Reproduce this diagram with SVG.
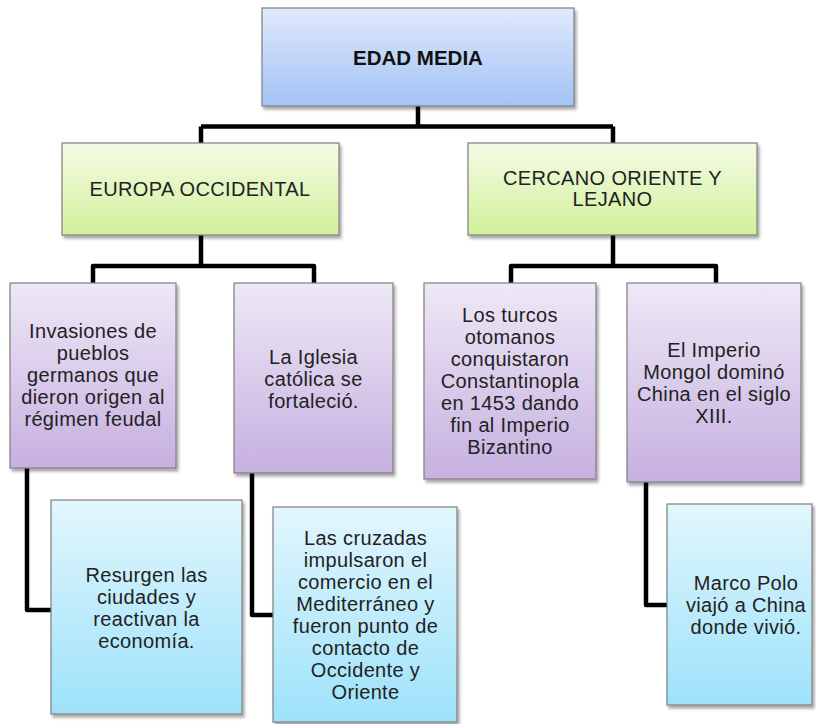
<svg xmlns="http://www.w3.org/2000/svg" width="816" height="724" viewBox="0 0 816 724">
<defs>
<linearGradient id="gBlueTop" x1="0" y1="0" x2="0" y2="1"><stop offset="0" stop-color="#dfe9fb"/><stop offset="1" stop-color="#a3c2f6"/></linearGradient>
<linearGradient id="gGreen" x1="0" y1="0" x2="0" y2="1"><stop offset="0" stop-color="#f4fbe6"/><stop offset="1" stop-color="#d2f19b"/></linearGradient>
<linearGradient id="gPurple" x1="0" y1="0" x2="0" y2="1"><stop offset="0" stop-color="#eee8f6"/><stop offset="1" stop-color="#c6b0e0"/></linearGradient>
<linearGradient id="gCyan" x1="0" y1="0" x2="0" y2="1"><stop offset="0" stop-color="#e2f6fd"/><stop offset="1" stop-color="#9de2fa"/></linearGradient>
<filter id="sh" x="-10%" y="-10%" width="125%" height="125%">
<feGaussianBlur in="SourceAlpha" stdDeviation="1.5"/>
<feOffset dx="2" dy="2.5" result="o"/>
<feComponentTransfer><feFuncA type="linear" slope="0.35"/></feComponentTransfer>
<feMerge><feMergeNode/><feMergeNode in="SourceGraphic"/></feMerge>
</filter>
</defs>
<style>
.box{stroke:#7f7f7f;stroke-width:1.2;filter:url(#sh)}
.t{font-family:"Liberation Sans",Arial,sans-serif;font-size:20px;fill:#222;text-anchor:middle;letter-spacing:0.35px}
.tb{font-family:"Liberation Sans",Arial,sans-serif;font-size:20.5px;font-weight:bold;fill:#111;text-anchor:middle}
.c{fill:none;stroke:#000;stroke-width:4.5;stroke-linejoin:round}
</style>
<g id="connectors">
<path class="c" d="M418 106 V126.5 M201 126.5 H613 M201 126.5 V143 M613 126.5 V143"/>
<path class="c" d="M201 235 V266 M93 283 V266 H314 V283"/>
<path class="c" d="M613 235 V266 M511 283 V266 H716 V283"/>
<path class="c" d="M27 468 V610 H51"/>
<path class="c" d="M252 473 V615 H273"/>
<path class="c" d="M646 482 V605 H667"/>
</g>
<g id="edad-media">
<rect class="box" x="262" y="8" width="312" height="98" fill="url(#gBlueTop)"/>
<text class="tb" x="418" y="65">EDAD MEDIA</text>
</g>
<g id="europa">
<rect class="box" x="62" y="143" width="277" height="92" fill="url(#gGreen)"/>
<text class="t" x="200" y="196">EUROPA OCCIDENTAL</text>
</g>
<g id="cercano">
<rect class="box" x="468" y="143" width="289" height="92" fill="url(#gGreen)"/>
<text class="t" x="612.5" y="185">CERCANO ORIENTE Y</text>
<text class="t" x="612.5" y="206">LEJANO</text>
</g>
<g id="invasiones">
<rect class="box" x="10" y="283" width="166" height="185" fill="url(#gPurple)"/>
<text class="t" x="93" y="338">Invasiones de</text>
<text class="t" x="93" y="360">pueblos</text>
<text class="t" x="93" y="382">germanos que</text>
<text class="t" x="93" y="404">dieron origen al</text>
<text class="t" x="93" y="426">régimen feudal</text>
</g>
<g id="iglesia">
<rect class="box" x="234" y="283" width="159" height="190" fill="url(#gPurple)"/>
<text class="t" x="313.5" y="364">La Iglesia</text>
<text class="t" x="313.5" y="386">católica se</text>
<text class="t" x="313.5" y="408">fortaleció.</text>
</g>
<g id="turcos">
<rect class="box" x="424" y="283" width="172" height="196" fill="url(#gPurple)"/>
<text class="t" x="510" y="322">Los turcos</text>
<text class="t" x="510" y="344">otomanos</text>
<text class="t" x="510" y="366">conquistaron</text>
<text class="t" x="510" y="388">Constantinopla</text>
<text class="t" x="510" y="410">en 1453 dando</text>
<text class="t" x="510" y="432">fin al Imperio</text>
<text class="t" x="510" y="454">Bizantino</text>
</g>
<g id="mongol">
<rect class="box" x="627" y="283" width="174" height="199" fill="url(#gPurple)"/>
<text class="t" x="714" y="357">El Imperio</text>
<text class="t" x="714" y="379">Mongol dominó</text>
<text class="t" x="714" y="401">China en el siglo</text>
<text class="t" x="714" y="423">XIII.</text>
</g>
<g id="resurgen">
<rect class="box" x="51" y="500" width="191" height="214" fill="url(#gCyan)"/>
<text class="t" x="146.5" y="582">Resurgen las</text>
<text class="t" x="146.5" y="604">ciudades y</text>
<text class="t" x="146.5" y="626">reactivan la</text>
<text class="t" x="146.5" y="648">economía.</text>
</g>
<g id="cruzadas">
<rect class="box" x="273" y="507" width="184" height="215" fill="url(#gCyan)"/>
<text class="t" x="365.5" y="545">Las cruzadas</text>
<text class="t" x="365.5" y="567">impulsaron el</text>
<text class="t" x="365.5" y="589">comercio en el</text>
<text class="t" x="365.5" y="611">Mediterráneo y</text>
<text class="t" x="365.5" y="633">fueron punto de</text>
<text class="t" x="365.5" y="655">contacto de</text>
<text class="t" x="365.5" y="677">Occidente y</text>
<text class="t" x="365.5" y="699">Oriente</text>
</g>
<g id="marco-polo">
<rect class="box" x="667" y="504" width="145" height="201" fill="url(#gCyan)"/>
<text class="t" x="746" y="590">Marco Polo</text>
<text class="t" x="746" y="612">viajó a China</text>
<text class="t" x="746" y="634">donde vivió.</text>
</g>
</svg>
